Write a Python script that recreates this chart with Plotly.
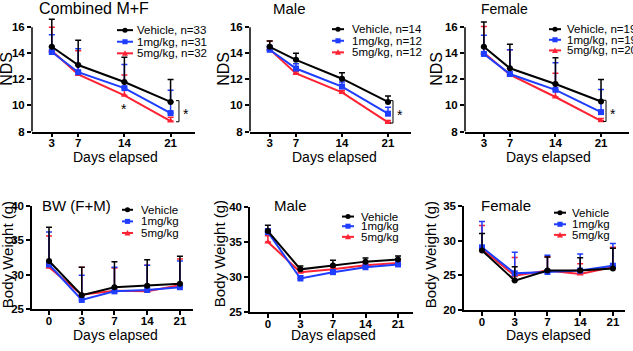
import plotly.graph_objects as go

# ---------------- data ----------------
days_nds = [3, 7, 14, 21]
day_labels_bw = ["0", "3", "7", "14", "21"]

comb_veh = [14.5, 13.1, 11.8, 10.27]
comb_veh_up = [16.6, 15.0, 13.7, 12.0]
comb_1 = [14.1, 12.55, 11.33, 9.42]
comb_1_up = [15.43, 14.35, 13.15, 11.17]
comb_5 = [14.2, 12.38, 10.78, 8.8]
comb_5_up = [16.0, 14.2, 12.33, 9.1]

male_veh = [14.5, 13.5, 12.05, 10.27]
male_veh_up = [14.94, 14.0, 12.5, 10.73]
male_1 = [14.27, 12.83, 11.45, 9.37]
male_1_up = [14.6, 13.2, 11.8, 9.86]
male_5 = [14.3, 12.46, 11.0, 8.7]
male_5_up = [14.94, 12.6, 11.15, 8.85]

fem_veh = [14.5, 12.85, 11.65, 10.3]
fem_veh_up = [16.4, 14.7, 13.65, 12.0]
fem_1 = [13.95, 12.41, 11.2, 9.49]
fem_1_up = [15.38, 14.27, 13.28, 11.22]
fem_5 = [14.05, 12.36, 10.65, 8.82]
fem_5_up = [16.05, 14.27, 12.47, 9.0]

bw_veh = [32.0, 27.05, 28.2, 28.4, 28.7]
bw_veh_up = [36.9, 31.1, 31.9, 32.2, 32.7]
bw_1 = [31.5, 26.35, 27.6, 27.8, 28.2]
bw_1_up = [36.2, 29.95, 31.1, 31.4, 32.0]
bw_5 = [31.1, 27.1, 27.7, 27.6, 28.5]
bw_5_up = [35.65, 31.1, 31.0, 31.4, 32.3]

bwm_veh = [36.56, 31.1, 31.65, 32.2, 32.5]
bwm_veh_up = [37.4, 31.56, 32.4, 32.7, 33.0]
bwm_1 = [36.4, 29.8, 30.7, 31.4, 31.8]
bwm_1_up = [36.9, 30.2, 31.0, 31.6, 32.0]
bwm_5 = [35.0, 30.7, 31.1, 31.7, 32.0]
bwm_5_up = [35.9, 31.2, 31.4, 31.9, 32.3]

bwf_veh = [28.6, 24.26, 25.7, 25.7, 26.0]
bwf_veh_up = [31.05, 26.26, 27.65, 27.56, 28.9]
bwf_1 = [29.05, 25.3, 25.5, 25.7, 26.4]
bwf_1_up = [32.77, 28.35, 27.9, 28.1, 29.6]
bwf_5 = [28.8, 24.95, 25.7, 25.2, 26.2]
bwf_5_up = [32.2, 27.6, 27.7, 26.7, 29.05]

legend_comb = ["Vehicle, n=33", "1mg/kg, n=31", "5mg/kg, n=32"]
legend_male = ["Vehicle, n=14", "1mg/kg, n=12", "5mg/kg, n=12"]
legend_fem = ["Vehicle, n=19", "1mg/kg, n=19", "5mg/kg, n=20"]
legend_bw = ["Vehicle", "1mg/kg", "5mg/kg"]

# ---------------- style ----------------
W, H = 633, 351
FONT = "Liberation Sans, Arial, sans-serif"
COLORS = ["#000000", "#1f3dff", "#ff2233"]
SYMBOLS = ["circle", "square", "triangle-up"]


def xdom(a, b):
    return [a / W, b / W]


def ydom(top, bottom):
    return [1 - bottom / H, 1 - top / H]


def px(x):
    return x / W


def py(y):
    return 1 - y / H


fig = go.Figure()
shapes = []
annotations = []

panels = [
    dict(i=1, x=days_nds, s=[comb_veh, comb_1, comb_5], u=[comb_veh_up, comb_1_up, comb_5_up],
         xd=(32, 195), yd=(12.5, 130), xr=[0, 24.7], yr=[8, 16.7], cat=False,
         title="Combined M+F", tx=37, ty=3, tsize=16, leg=legend_comb,
         leg_line=(117, 133), leg_tx=135, leg_y=[25, 37, 49],
         ylab="NDS", ylx=7, yly=65, xlx=115, xly=156, bx=22.27),
    dict(i=2, x=days_nds, s=[male_veh, male_1, male_5], u=[male_veh_up, male_1_up, male_5_up],
         xd=(250, 411), yd=(12.5, 130), xr=[0, 24.5], yr=[8, 16.7], cat=False,
         title="Male", tx=271, ty=3, tsize=15, leg=legend_male,
         leg_line=(332, 344), leg_tx=350, leg_y=[24, 36, 48],
         ylab="NDS", ylx=224, yly=65, xlx=334, xly=156, bx=21.76),
    dict(i=3, x=days_nds, s=[fem_veh, fem_1, fem_5], u=[fem_veh_up, fem_1_up, fem_5_up],
         xd=(465, 629), yd=(12.5, 130), xr=[0.1, 25.3], yr=[8, 16.7], cat=False,
         title="Female", tx=479, ty=3, tsize=14, leg=legend_fem,
         leg_line=(549, 561), leg_tx=565, leg_y=[24, 35, 46],
         ylab="NDS", ylx=437, yly=65, xlx=548, xly=156, bx=21.77),
    dict(i=4, x=list(range(5)), s=[bw_veh, bw_1, bw_5], u=[bw_veh_up, bw_1_up, bw_5_up],
         xd=(32, 193), yd=(207, 314), xr=[-0.52, 4.4], yr=[25, 40], cat=True,
         title="BW (F+M)", tx=40, ty=207, tsize=15, leg=legend_bw,
         leg_line=(122, 133), leg_tx=139, leg_y=[211, 223, 235],
         ylab="Body Weight (g)", ylx=7, yly=258, xlx=115, xly=341),
    dict(i=5, x=list(range(5)), s=[bwm_veh, bwm_1, bwm_5], u=[bwm_veh_up, bwm_1_up, bwm_5_up],
         xd=(250, 413), yd=(208, 317), xr=[-0.55, 4.46], yr=[25, 40], cat=True,
         title="Male", tx=272, ty=207, tsize=15, leg=legend_bw,
         leg_line=(342, 354), leg_tx=359, leg_y=[218, 228, 239],
         ylab="Body Weight (g)", ylx=219, yly=257, xlx=333, xly=341),
    dict(i=6, x=list(range(5)), s=[bwf_veh, bwf_1, bwf_5], u=[bwf_veh_up, bwf_1_up, bwf_5_up],
         xd=(464, 625), yd=(207, 315), xr=[-0.55, 4.37], yr=[20, 35], cat=True,
         title="Female", tx=479, ty=207, tsize=15, leg=legend_bw,
         leg_line=(554, 566), leg_tx=570, leg_y=[214, 226, 237],
         ylab="Body Weight (g)", ylx=430, yly=257, xlx=548, xly=341),
]

layout_axes = {}
for p in panels:
    i = p["i"]
    xa = "x" if i == 1 else f"x{i}"
    ya = "y" if i == 1 else f"y{i}"
    for k in [2, 1, 0]:
        vals = p["s"][k]
        ups = p["u"][k]
        fig.add_trace(go.Scatter(
            x=p["x"], y=vals, xaxis=xa, yaxis=ya, mode="lines+markers",
            line=dict(color=COLORS[k], width=2),
            marker=dict(symbol=SYMBOLS[k], size=6, color=COLORS[k]),
            error_y=dict(type="data", symmetric=False,
                         array=[u - v for u, v in zip(ups, vals)],
                         arrayminus=[0] * len(vals),
                         color=COLORS[k], thickness=1.5, width=3),
            showlegend=False, hoverinfo="skip", cliponaxis=False,
        ))
    tickfont = dict(family=FONT, size=11.5, color="black", weight="bold")
    xaxis = dict(domain=xdom(*p["xd"]), range=p["xr"], anchor=ya,
                 showline=True, linecolor="black", linewidth=1.5,
                 ticks="outside", ticklen=4, tickwidth=1.5, tickcolor="black",
                 ticklabelstandoff=-4,
                 showgrid=False, zeroline=False, tickfont=tickfont)
    if p["cat"]:
        xaxis.update(tickmode="array", tickvals=p["x"], ticktext=day_labels_bw)
    else:
        xaxis.update(tickmode="array", tickvals=p["x"], ticktext=[str(d) for d in p["x"]])
    yaxis = dict(domain=ydom(*p["yd"]), range=p["yr"], anchor=xa,
                 ticks="outside", ticklen=4, tickwidth=1.5, tickcolor="black",
                 showgrid=False, zeroline=False, tickfont=tickfont)
    if p["cat"]:
        yaxis.update(showline=True, linecolor="black", linewidth=1.5, dtick=5, tick0=0)
    else:
        yaxis.update(showline=False, tickvals=[8, 10, 12, 14, 16])
        shapes.append(dict(type="line", xref=f"{xa} domain", yref=ya, x0=0, x1=0,
                           y0=8, y1=16, line=dict(color="black", width=1.5)))
    layout_axes["xaxis" if i == 1 else f"xaxis{i}"] = xaxis
    layout_axes["yaxis" if i == 1 else f"yaxis{i}"] = yaxis

    annotations.append(dict(text=p["title"], x=px(p["tx"]), y=py(p["ty"]), xref="paper", yref="paper",
                            xanchor="left", yanchor="middle", showarrow=False,
                            font=dict(family=FONT, size=p["tsize"], color="black")))
    annotations.append(dict(text=p["ylab"], x=px(p["ylx"]), y=py(p["yly"]), xref="paper", yref="paper",
                            xanchor="center", yanchor="middle", showarrow=False, textangle=-90,
                            font=dict(family=FONT, size=16 if not p["cat"] else 15, color="black")))
    annotations.append(dict(text="Days elapsed", x=px(p["xlx"]), y=py(p["xly"]), xref="paper", yref="paper",
                            xanchor="center", yanchor="middle", showarrow=False,
                            font=dict(family=FONT, size=14, color="black")))
    for k in range(3):
        yy = py(p["leg_y"][k])
        x0, x1 = p["leg_line"]
        shapes.append(dict(type="line", xref="paper", yref="paper", x0=px(x0), x1=px(x1),
                           y0=yy, y1=yy, line=dict(color=COLORS[k], width=2)))
        cx = (x0 + x1) / 2
        cy = p["leg_y"][k]
        r = 2.6
        if k == 0:
            shapes.append(dict(type="circle", xref="paper", yref="paper",
                               x0=px(cx - r), x1=px(cx + r), y0=py(cy + r), y1=py(cy - r),
                               fillcolor=COLORS[k], line=dict(width=0)))
        elif k == 1:
            shapes.append(dict(type="rect", xref="paper", yref="paper",
                               x0=px(cx - r), x1=px(cx + r), y0=py(cy + r), y1=py(cy - r),
                               fillcolor=COLORS[k], line=dict(width=0)))
        else:
            path = (f"M {px(cx - r - 0.4)} {py(cy + r)} L {px(cx + r + 0.4)} {py(cy + r)} "
                    f"L {px(cx)} {py(cy - r - 0.5)} Z")
            shapes.append(dict(type="path", xref="paper", yref="paper", path=path,
                               fillcolor=COLORS[k], line=dict(width=0)))
        annotations.append(dict(text=p["leg"][k], x=px(p["leg_tx"]), y=yy, xref="paper", yref="paper",
                                xanchor="left", yanchor="middle", showarrow=False,
                                font=dict(family=FONT, size=11.5, color="black")))
    if not p["cat"]:
        ytop = p["s"][0][-1] + 0.1
        ybot = p["s"][2][-1] - 0.05
        bx = p["bx"]
        dx = 0.45
        shapes.append(dict(type="path", xref=xa, yref=ya,
                           path=f"M {bx - dx} {ytop} L {bx} {ytop} L {bx} {ybot} L {bx - dx} {ybot}",
                           line=dict(color="black", width=1)))
        annotations.append(dict(text="*", x=bx, y=(ytop + ybot) / 2, xref=xa, yref=ya,
                                xanchor="left", yanchor="middle", xshift=2, yshift=-3, showarrow=False,
                                font=dict(family=FONT, size=14, color="black")))
        if i == 1:
            annotations.append(dict(text="*", x=days_nds[2], y=p["s"][2][2], xref=xa, yref=ya,
                                    xanchor="center", yanchor="middle", yshift=-14, showarrow=False,
                                    font=dict(family=FONT, size=14, color="black")))

fig.update_layout(
    width=W, height=H, margin=dict(l=0, r=0, t=0, b=0),
    paper_bgcolor="white", plot_bgcolor="white",
    showlegend=False, shapes=shapes, annotations=annotations,
    font=dict(family=FONT, color="black"),
    **layout_axes,
)

fig.write_html("out.html", config={"displayModeBar": False},
               post_script="document.body.style.margin='0';document.body.style.overflow='hidden';")
